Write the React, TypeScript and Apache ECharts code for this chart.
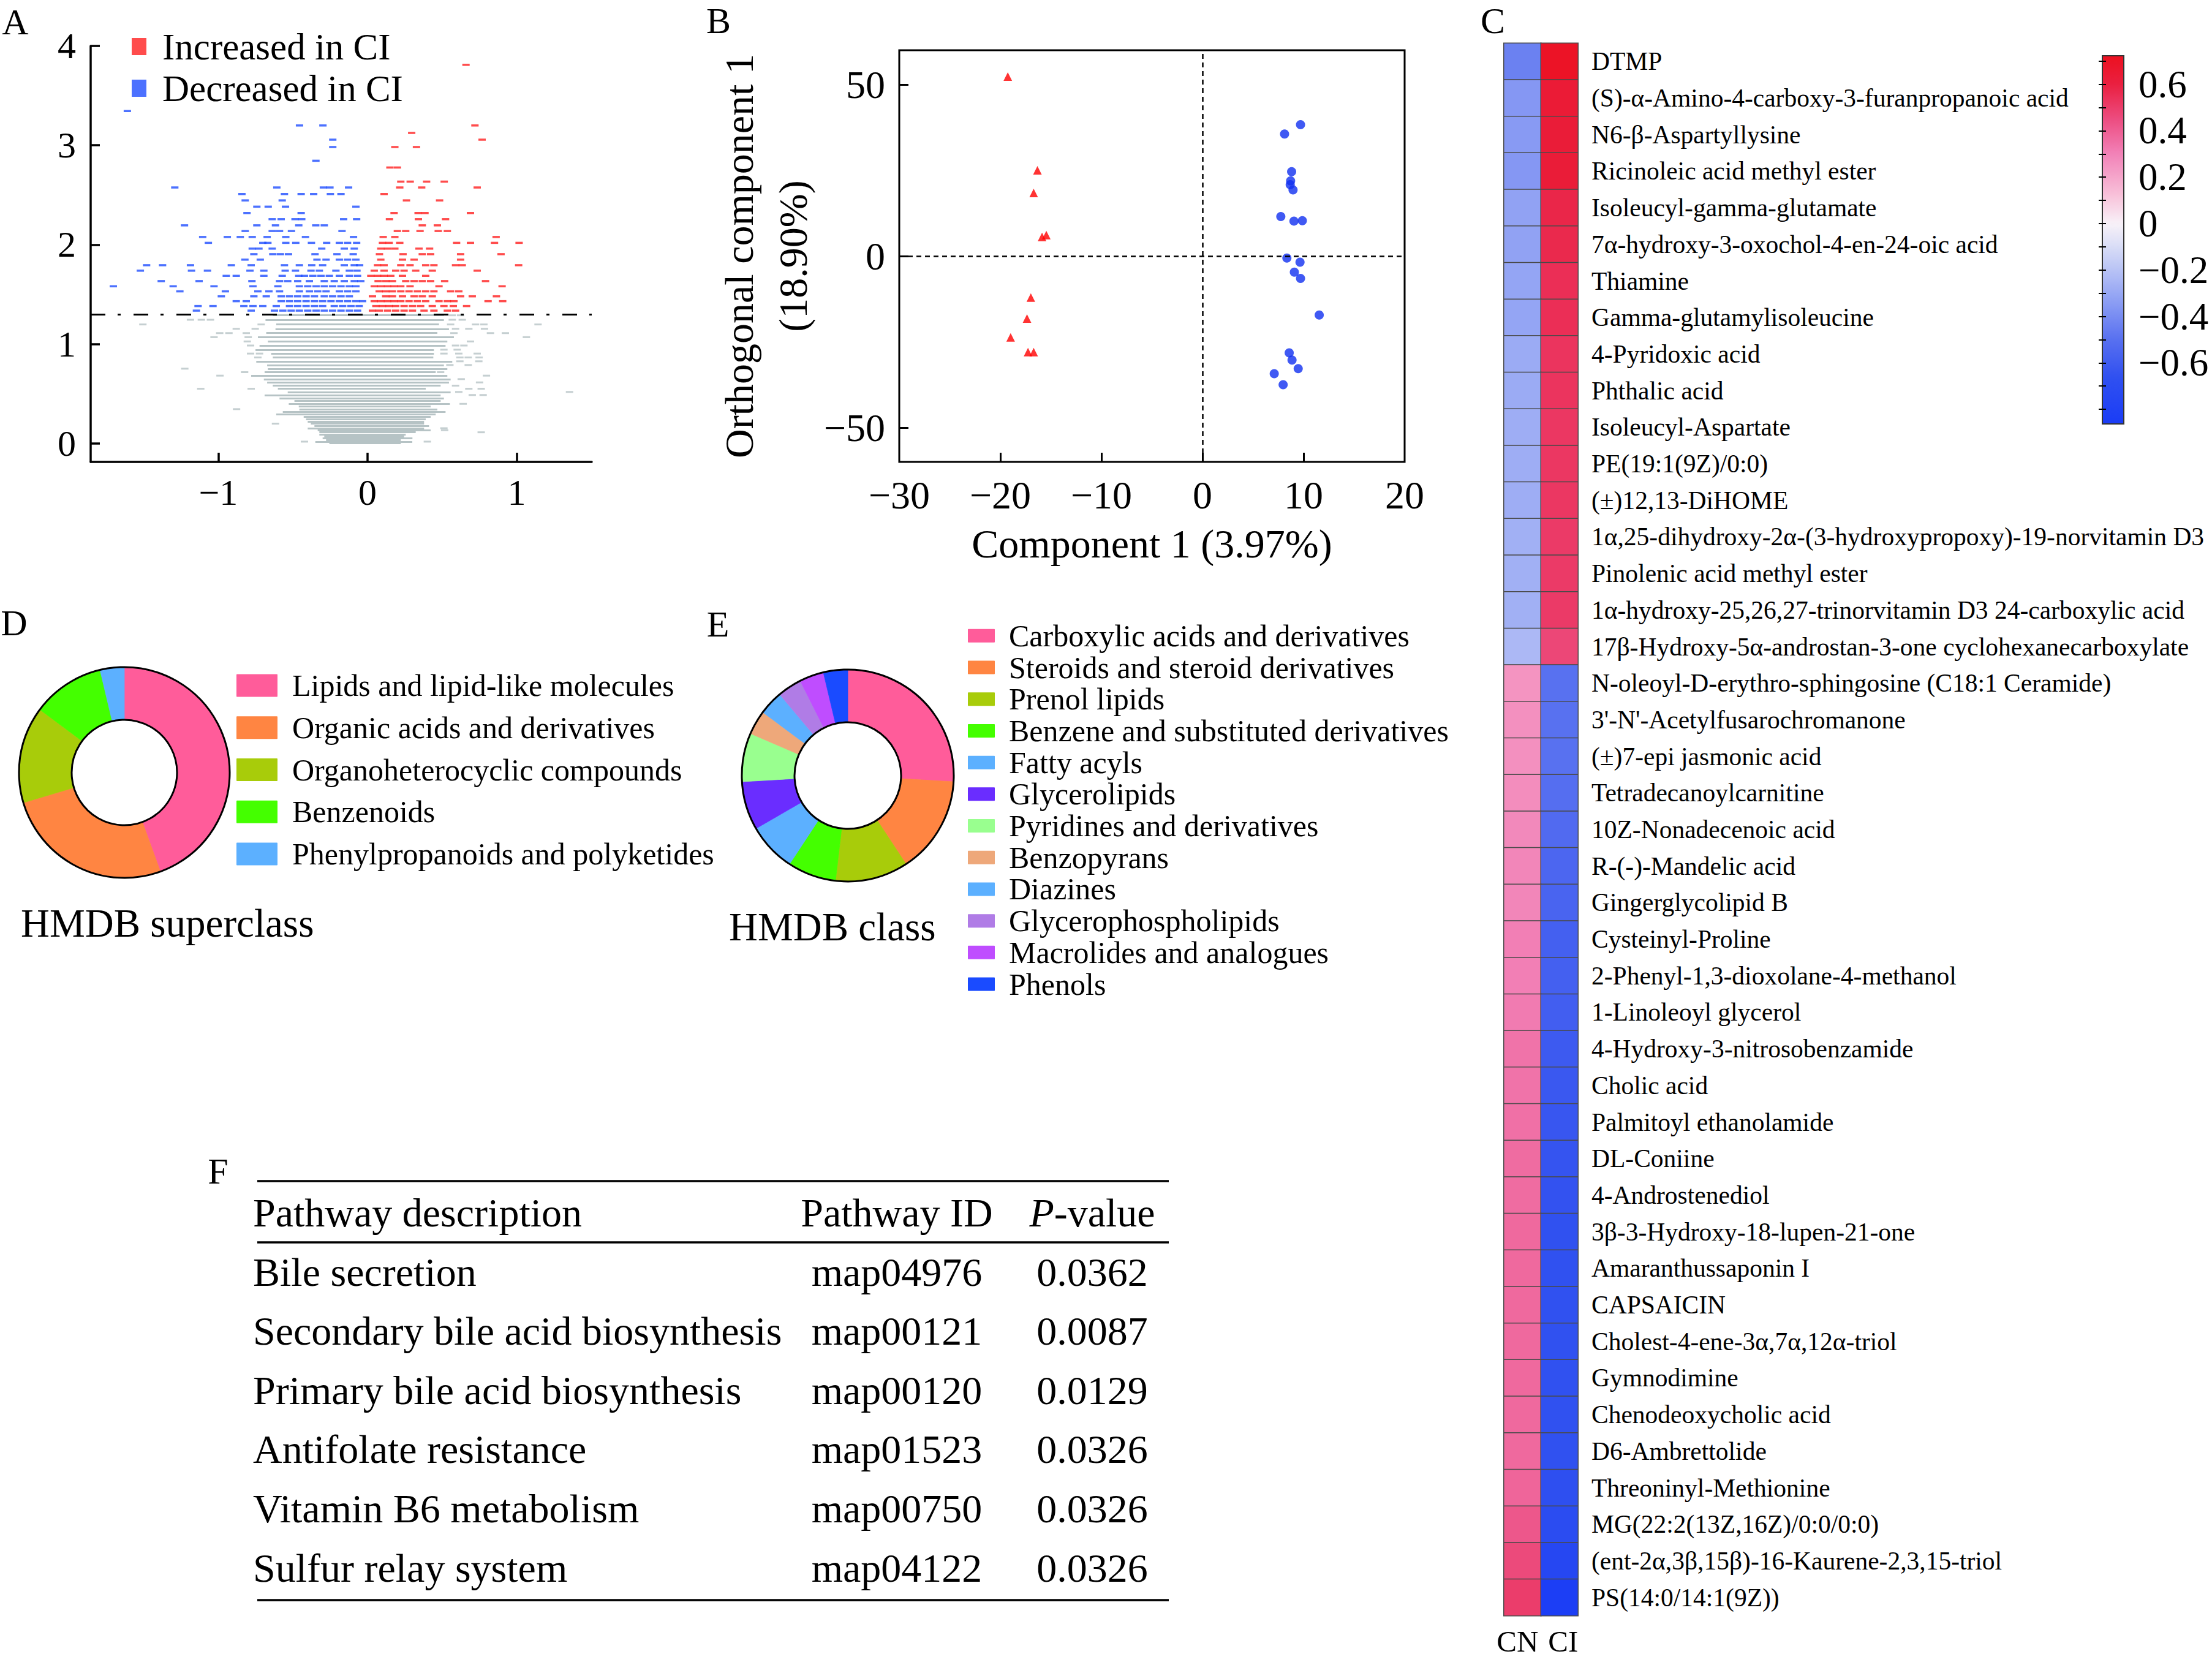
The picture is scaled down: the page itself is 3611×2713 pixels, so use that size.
import React, { useEffect, useRef } from 'react';
import * as echarts from 'echarts';

const FONT = "'Liberation Serif', 'Times New Roman', Times, serif";

// ---------------- Panel A : volcano plot ----------------
const volcanoXTicks = [-1, 0, 1];
const volcanoYTicks = [0, 1, 2, 3, 4];
const pThreshold = 1.3;

const increasedHigh: [number, number][] = [
  [0.66, 3.81], [0.72, 3.2], [0.296, 3.125], [0.768, 3.057], [0.183, 2.983], [0.328, 2.983],
  [0.15, 2.777], [0.2, 2.777], [0.223, 2.635], [0.286, 2.635], [0.396, 2.635], [0.514, 2.635],
];
const decreasedHigh: [number, number][] = [
  [-1.61, 3.345], [-0.456, 3.2], [-0.299, 3.2], [-0.233, 3.057], [-0.233, 2.983], [-0.346, 2.845],
];
const increasedRows: [number, number[]][] = [
  [2.576, [0.216, 0.363, 0.735]],
  [2.510, [0.111]],
  [2.446, [0.261, 0.483]],
  [2.319, [0.178, 0.339, 0.385, 0.690]],
  [2.257, [0.147, 0.341, 0.523]],
  [2.195, [0.367, 0.468]],
  [2.138, [0.200, 0.256, 0.352, 0.474, 0.535]],
  [2.078, [0.105, 0.183, 0.862]],
  [2.019, [0.100, 0.145, 0.216, 0.597, 0.690, 0.851, 1.016]],
  [1.961, [0.089, 0.134, 0.183, 0.345, 0.416]],
  [1.905, [0.080, 0.238, 0.367, 0.423, 0.624, 0.895]],
  [1.850, [0.089, 0.234, 0.312, 0.624]],
  [1.794, [0.067, 0.111, 0.223, 0.285, 0.390, 0.445, 0.590, 0.635, 1.013]],
  [1.739, [0.045, 0.111, 0.189, 0.245, 0.323, 0.434, 0.735]],
  [1.687, [0.022, 0.067, 0.111, 0.156, 0.234, 0.390]],
  [1.634, [0.071, 0.122, 0.167, 0.256, 0.312, 0.367, 0.423, 0.517, 0.791]],
  [1.582, [0.045, 0.089, 0.134, 0.178, 0.223, 0.285, 0.479, 0.902]],
  [1.531, [0.078, 0.122, 0.167, 0.223, 0.278, 0.334, 0.390, 0.445, 0.557, 0.612]],
  [1.481, [0.033, 0.122, 0.167, 0.234, 0.312, 0.367, 0.434, 0.624, 0.702, 0.864]],
  [1.432, [0.045, 0.089, 0.134, 0.178, 0.223, 0.278, 0.334, 0.390, 0.479, 0.535, 0.579, 0.808, 0.906]],
  [1.383, [0.056, 0.100, 0.145, 0.189, 0.245, 0.301, 0.356, 0.434, 0.512, 0.575, 0.664]],
  [1.337, [0.033, 0.078, 0.134, 0.189, 0.245, 0.301, 0.379, 0.445, 0.535, 0.590]],
];
const decreasedRows: [number, number[]][] = [
  [2.576, [-1.292, -0.608, -0.296, -0.252, -0.127]],
  [2.510, [-0.842, -0.557, -0.445, -0.361, -0.249, -0.178]],
  [2.446, [-0.820, -0.572]],
  [2.383, [-0.742, -0.666, -0.550, -0.078]],
  [2.319, [-0.808, -0.445]],
  [2.257, [-0.639, -0.579, -0.486, -0.441, -0.160, -0.073]],
  [2.195, [-1.227, -0.742, -0.617, -0.461, -0.347, -0.290]],
  [2.138, [-0.820, -0.639, -0.590, -0.510, -0.171]],
  [2.078, [-1.105, -0.940, -0.853, -0.773, -0.673, -0.548, -0.416, -0.094]],
  [2.019, [-1.067, -0.702, -0.668, -0.548, -0.481, -0.376, -0.274, -0.189, -0.134, -0.073]],
  [1.961, [-0.773, -0.728, -0.639, -0.307, -0.156, -0.089]],
  [1.905, [-0.762, -0.635, -0.584, -0.530, -0.352, -0.205, -0.096]],
  [1.850, [-0.822, -0.719, -0.339, -0.278, -0.189, -0.134, -0.078]],
  [1.794, [-1.481, -1.374, -1.187, -0.913, -0.780, -0.557, -0.457, -0.374, -0.301, -0.156, -0.089, -0.053]],
  [1.739, [-1.523, -1.180, -1.073, -0.788, -0.695, -0.552, -0.483, -0.379, -0.323, -0.212, -0.122, -0.071]],
  [1.687, [-0.947, -0.880, -0.695, -0.572, -0.461, -0.423, -0.367, -0.312, -0.256, -0.189, -0.122, -0.067]],
  [1.634, [-1.383, -1.129, -0.775, -0.590, -0.535, -0.468, -0.390, -0.290, -0.223, -0.156, -0.089, -0.045]],
  [1.582, [-1.704, -1.303, -1.029, -0.768, -0.601, -0.457, -0.401, -0.345, -0.290, -0.234, -0.178, -0.122, -0.078]],
  [1.531, [-1.258, -0.953, -0.735, -0.661, -0.590, -0.457, -0.390, -0.334, -0.278, -0.189, -0.134, -0.078]],
  [1.481, [-0.980, -0.762, -0.679, -0.579, -0.523, -0.468, -0.412, -0.356, -0.290, -0.234, -0.178, -0.122]],
  [1.432, [-0.880, -0.813, -0.579, -0.523, -0.468, -0.412, -0.356, -0.301, -0.245, -0.189, -0.134, -0.078, -0.033]],
  [1.383, [-1.136, -1.036, -0.829, -0.768, -0.702, -0.612, -0.523, -0.468, -0.412, -0.356, -0.301, -0.223, -0.167, -0.111, -0.056]],
  [1.337, [-1.147, -0.780, -0.624, -0.568, -0.512, -0.457, -0.401, -0.345, -0.290, -0.234, -0.178, -0.122, -0.067]],
];
// dense non-significant rows: [y, x from, x to]
const grayRows: [number, number, number][] = [
  [1.290, -0.635, 0.512], [1.245, -0.684, 0.512], [1.198, -0.612, 0.479], [1.154, -0.617, 0.546],
  [1.111, -0.679, 0.468], [1.070, -0.735, 0.579], [1.027, -0.668, 0.535], [0.986, -0.724, 0.523],
  [0.944, -0.751, 0.445], [0.905, -0.646, 0.445], [0.866, -0.635, 0.441], [0.827, -0.746, 0.568],
  [0.790, -0.673, 0.512], [0.753, -0.668, 0.535], [0.718, -0.690, 0.457], [0.683, -0.780, 0.535],
  [0.648, -0.695, 0.557], [0.615, -0.673, 0.546], [0.582, -0.635, 0.490], [0.551, -0.601, 0.390],
  [0.519, -0.535, 0.557], [0.488, -0.690, 0.490], [0.457, -0.590, 0.512], [0.428, -0.490, 0.490],
  [0.399, -0.528, 0.552], [0.372, -0.461, 0.423], [0.346, -0.457, 0.468], [0.319, -0.568, 0.523],
  [0.294, -0.612, 0.457], [0.270, -0.428, 0.423], [0.245, -0.412, 0.390], [0.222, -0.401, 0.379],
  [0.200, -0.380, 0.379], [0.177, -0.356, 0.412], [0.154, -0.401, 0.379], [0.134, -0.334, 0.423],
  [0.113, -0.323, 0.323], [0.093, -0.323, 0.256], [0.074, -0.290, 0.245], [0.056, -0.301, 0.301],
  [0.037, -0.278, 0.223], [0.019, -0.350, 0.300], [0.002, -0.256, 0.223],
];
const grayOutliers: [number, number][] = [
  [0.568, 1.290], [0.624, 1.290],
  [-1.187, 1.245], [-1.114, 1.245], [-1.053, 1.245], [0.568, 1.245], [0.635, 1.245],
  [-1.506, 1.198], [-0.713, 1.198], [0.557, 1.198], [0.724, 1.198], [0.780, 1.198], [1.143, 1.198],
  [-0.880, 1.154], [-0.753, 1.154], [0.590, 1.154], [0.679, 1.154], [0.784, 1.154],
  [-0.991, 1.111], [-0.929, 1.111], [-0.813, 1.111], [0.579, 1.111], [0.824, 1.111], [0.924, 1.111],
  [-1.029, 1.070], [-0.800, 1.070], [1.065, 1.070],
  [-0.806, 1.027], [0.690, 1.027],
  [-0.784, 0.986], [0.590, 0.986], [0.646, 0.986],
  [0.512, 0.944], [0.601, 0.944],
  [-0.784, 0.905], [-0.724, 0.905], [0.512, 0.905], [0.612, 0.905], [0.735, 0.905],
  [-0.735, 0.866], [0.619, 0.866], [0.675, 0.866], [0.748, 0.866],
  [0.619, 0.827], [0.746, 0.827],
  [0.552, 0.790], [0.675, 0.790],
  [-1.225, 0.753],
  [-0.824, 0.718], [0.490, 0.718],
  [-0.989, 0.683], [0.797, 0.683],
  [0.628, 0.648], [0.751, 0.615], [0.590, 0.582],
  [-1.118, 0.551], [-0.780, 0.551], [0.679, 0.551], [0.762, 0.551],
  [0.612, 0.519], [1.354, 0.519],
  [0.702, 0.488], [0.775, 0.488],
  [0.641, 0.399], [-0.878, 0.346], [-0.617, 0.200],
  [0.512, 0.154], [0.517, 0.134], [0.762, 0.113],
  [-0.423, 0.019], [0.401, 0.019],
];

// ---------------- Panel B : OPLS-DA scores ----------------
const comp1Ticks = [-30, -20, -10, 0, 10, 20];
const orthTicks = [-50, 0, 50];
const triangleGroup: [number, number][] = [
  [-19.26, 52.3], [-16.33, 25.0], [-16.7, 18.4], [-15.87, 5.6], [-15.45, 6.1],
  [-16.98, -12.1], [-17.36, -18.2], [-18.98, -23.7], [-17.26, -28.0], [-16.7, -28.0],
];
const circleGroup: [number, number][] = [
  [9.70, 38.3], [8.12, 35.6], [8.82, 24.6], [8.72, 21.9], [8.68, 20.8], [8.96, 19.3],
  [7.75, 11.5], [9.05, 10.2], [9.88, 10.3], [8.35, -0.6], [9.65, -1.8], [9.09, -4.7],
  [9.70, -6.5], [11.55, -17.2], [8.58, -28.2], [8.86, -30.3], [9.47, -32.8], [7.10, -34.3], [7.98, -37.5],
];

// ---------------- Panel C : heatmap ----------------
const heatColumns = ['CN', 'CI'];
const metabolites = [
  'DTMP',
  '(S)-\u03b1-Amino-4-carboxy-3-furanpropanoic acid',
  'N6-\u03b2-Aspartyllysine',
  'Ricinoleic acid methyl ester',
  'Isoleucyl-gamma-glutamate',
  '7\u03b1-hydroxy-3-oxochol-4-en-24-oic acid',
  'Thiamine',
  'Gamma-glutamylisoleucine',
  '4-Pyridoxic acid',
  'Phthalic acid',
  'Isoleucyl-Aspartate',
  'PE(19:1(9Z)/0:0)',
  '(\u00b1)12,13-DiHOME',
  '1\u03b1,25-dihydroxy-2\u03b1-(3-hydroxypropoxy)-19-norvitamin D3',
  'Pinolenic acid methyl ester',
  '1\u03b1-hydroxy-25,26,27-trinorvitamin D3 24-carboxylic acid',
  '17\u03b2-Hydroxy-5\u03b1-androstan-3-one cyclohexanecarboxylate',
  'N-oleoyl-D-erythro-sphingosine (C18:1 Ceramide)',
  "3'-N'-Acetylfusarochromanone",
  '(\u00b1)7-epi jasmonic acid',
  'Tetradecanoylcarnitine',
  '10Z-Nonadecenoic acid',
  'R-(-)-Mandelic acid',
  'Gingerglycolipid B',
  'Cysteinyl-Proline',
  '2-Phenyl-1,3-dioxolane-4-methanol',
  '1-Linoleoyl glycerol',
  '4-Hydroxy-3-nitrosobenzamide',
  'Cholic acid',
  'Palmitoyl ethanolamide',
  'DL-Coniine',
  '4-Androstenediol',
  '3\u03b2-3-Hydroxy-18-lupen-21-one',
  'Amaranthussaponin I',
  'CAPSAICIN',
  'Cholest-4-ene-3\u03b1,7\u03b1,12\u03b1-triol',
  'Gymnodimine',
  'Chenodeoxycholic acid',
  'D6-Ambrettolide',
  'Threoninyl-Methionine',
  'MG(22:2(13Z,16Z)/0:0/0:0)',
  '(ent-2\u03b1,3\u03b2,15\u03b2)-16-Kaurene-2,3,15-triol',
  'PS(14:0/14:1(9Z))',
];
const cnValues = [
  -0.44, -0.36, -0.35, -0.36, -0.32, -0.32, -0.31, -0.31, -0.29, -0.29, -0.28, -0.28, -0.28, -0.27, -0.27, -0.27, -0.24,
  0.25, 0.26, 0.26, 0.27, 0.28, 0.29, 0.29, 0.31, 0.31, 0.32, 0.34, 0.34, 0.35, 0.36, 0.36, 0.37, 0.37, 0.37, 0.37,
  0.37, 0.37, 0.37, 0.38, 0.42, 0.46, 0.50,
];
const ciValues = [
  0.70, 0.64, 0.63, 0.63, 0.58, 0.57, 0.55, 0.55, 0.53, 0.53, 0.52, 0.52, 0.52, 0.51, 0.51, 0.51, 0.47,
  -0.50, -0.50, -0.50, -0.51, -0.53, -0.55, -0.56, -0.58, -0.58, -0.59, -0.61, -0.62, -0.63, -0.64, -0.65, -0.66,
  -0.66, -0.66, -0.66, -0.66, -0.66, -0.66, -0.67, -0.70, -0.75, -0.84,
];
const colorMin = -0.863;
const colorMax = 0.723;
const colorbarTicks = [-0.8, -0.7, -0.6, -0.5, -0.4, -0.3, -0.2, -0.1, 0, 0.1, 0.2, 0.3, 0.4, 0.5, 0.6, 0.7];
const colorbarLabels = [-0.6, -0.4, -0.2, 0, 0.2, 0.4, 0.6];
const colorStops: [number, string][] = [
  [-0.863, '#1a3cf6'], [-0.66, '#3050f0'], [-0.5, '#5870f0'], [-0.3, '#98a8f4'], [-0.12, '#d2d8f6'],
  [0, '#f8f2f8'], [0.12, '#f8c2da'], [0.3, '#f282b8'], [0.45, '#ec4c80'], [0.6, '#ea2040'], [0.723, '#ec1020'],
];

// ---------------- Panel D / E : HMDB donuts ----------------
const superclassNames = [
  'Lipids and lipid-like molecules',
  'Organic acids and derivatives',
  'Organoheterocyclic compounds',
  'Benzenoids',
  'Phenylpropanoids and polyketides',
];
const superclassCounts = [12, 7, 4, 3, 1];
const superclassColors = ['#ff5c9a', '#ff8542', '#a8cc0a', '#44ff00', '#5cb0ff'];

const classNames = [
  'Carboxylic acids and derivatives',
  'Steroids and steroid derivatives',
  'Prenol lipids',
  'Benzene and substituted derivatives',
  'Fatty acyls',
  'Glycerolipids',
  'Pyridines and derivatives',
  'Benzopyrans',
  'Diazines',
  'Glycerophospholipids',
  'Macrolides and analogues',
  'Phenols',
];
const classCounts = [7, 4, 3, 2, 2, 2, 2, 1, 1, 1, 1, 1];
const classColors = [
  '#ff5c9a', '#ff8542', '#a8cc0a', '#44ff00', '#5cb0ff', '#6a2dff',
  '#99ff8f', '#eea87a', '#5cb0ff', '#b07ce6', '#bf4dff', '#1a4bff',
];

// ---------------- Panel F : pathway table ----------------
const pathwayNames = [
  'Bile secretion',
  'Secondary bile acid biosynthesis',
  'Primary bile acid biosynthesis',
  'Antifolate resistance',
  'Vitamin B6 metabolism',
  'Sulfur relay system',
];
const pathwayIds = ['map04976', 'map00121', 'map00120', 'map01523', 'map00750', 'map04122'];
const pathwayPValues = ['0.0362', '0.0087', '0.0129', '0.0326', '0.0326', '0.0326'];

// ---------------- helpers ----------------
const RED = '#ff1f1f';
const BLUE = '#1f4dff';
const GRAY = '#b6c3c5';

function hexToRgb(h: string): number[] {
  const n = parseInt(h.slice(1), 16);
  return [(n >> 16) & 255, (n >> 8) & 255, n & 255];
}
function colorAt(v: number): string {
  if (v <= colorStops[0][0]) return colorStops[0][1];
  for (let i = 1; i < colorStops.length; i++) {
    const [v1, c1] = colorStops[i];
    const [v0, c0] = colorStops[i - 1];
    if (v <= v1) {
      const t = (v - v0) / (v1 - v0);
      const a = hexToRgb(c0);
      const b = hexToRgb(c1);
      const m = a.map((x, k) => Math.round(x + (b[k] - x) * t));
      return `rgb(${m[0]},${m[1]},${m[2]})`;
    }
  }
  return colorStops[colorStops.length - 1][1];
}
const fmtMinus = (v: number) => String(Math.round(v * 100) / 100).replace('-', '\u2212');

export default function App() {
  const ref = useRef<HTMLDivElement>(null);

  useEffect(() => {
    document.body.style.margin = '0';
    if (!ref.current) return;
    const chart = echarts.init(ref.current, undefined, { renderer: 'svg' });

    const N = 81;
    const samples: string[] = [];
    for (let i = 0; i < N; i++) samples.push(colorAt(colorMin + ((colorMax - colorMin) * i) / (N - 1)));

    const upPts = [...increasedHigh, ...increasedRows.flatMap(([y, xs]) => xs.map((x) => [x, y]))];
    const downPts = [...decreasedHigh, ...decreasedRows.flatMap(([y, xs]) => xs.map((x) => [x, y]))];

    const heatData: number[][] = [];
    metabolites.forEach((_, i) => {
      heatData.push([0, i, cnValues[i]]);
      heatData.push([1, i, ciValues[i]]);
    });

    const txt = (text: string, x: number, y: number, size: number, align = 'left') => ({
      type: 'text', x, y, silent: true,
      style: { text, fontSize: size, fontFamily: FONT, fill: '#000', textAlign: align, textVerticalAlign: 'middle' },
    });

    const graphics: any[] = [
      txt('A', 25, 36, 60, 'center'),
      txt('B', 1173, 34, 60, 'center'),
      txt('C', 2437, 34, 60, 'center'),
      txt('D', 23, 1017, 60, 'center'),
      txt('E', 1172, 1019, 60, 'center'),
      txt('F', 356, 1912, 60, 'center'),
      txt('HMDB superclass', 34, 1507, 65),
      txt('HMDB class', 1190, 1513, 65),
      { type: 'circle', silent: true, z: 10, shape: { cx: 203, cy: 1261, r: 172 }, style: { fill: 'none', stroke: '#000', lineWidth: 3 } },
      { type: 'circle', silent: true, z: 10, shape: { cx: 203, cy: 1261, r: 86 }, style: { fill: 'none', stroke: '#000', lineWidth: 3 } },
      { type: 'circle', silent: true, z: 10, shape: { cx: 1384, cy: 1266, r: 173 }, style: { fill: 'none', stroke: '#000', lineWidth: 3 } },
      { type: 'circle', silent: true, z: 10, shape: { cx: 1384, cy: 1266, r: 87 }, style: { fill: 'none', stroke: '#000', lineWidth: 3 } },
      {
        type: 'rect', silent: true, z: 1,
        shape: { x: 3432, y: 91, width: 35, height: 601 },
        style: {
          fill: { type: 'linear', x: 0, y: 1, x2: 0, y2: 0, colorStops: samples.map((c, i) => ({ offset: i / (N - 1), color: c })) },
          stroke: '#333', lineWidth: 2,
        },
      },
      // table rules
      { type: 'line', silent: true, shape: { x1: 420, y1: 1928, x2: 1908, y2: 1928 }, style: { stroke: '#000', lineWidth: 3.5 } },
      { type: 'line', silent: true, shape: { x1: 420, y1: 2028, x2: 1908, y2: 2028 }, style: { stroke: '#000', lineWidth: 3.5 } },
      { type: 'line', silent: true, shape: { x1: 420, y1: 2612, x2: 1908, y2: 2612 }, style: { stroke: '#000', lineWidth: 3.5 } },
      txt('Pathway description', 413, 1979, 66),
      txt('Pathway ID', 1464, 1979, 66, 'center'),
      {
        type: 'text', x: 1783, y: 1979, silent: true,
        style: {
          text: '{i|P}-value', fontSize: 66, fontFamily: FONT, fill: '#000', textAlign: 'center', textVerticalAlign: 'middle',
          rich: { i: { fontStyle: 'italic', fontSize: 66, fontFamily: FONT, fill: '#000' } },
        },
      },
    ];
    pathwayNames.forEach((name, i) => {
      const y = 2076 + i * 96.6;
      graphics.push(txt(name, 413, y, 66));
      graphics.push(txt(pathwayIds[i], 1464, y, 66, 'center'));
      graphics.push(txt(pathwayPValues[i], 1783, y, 66, 'center'));
    });

    const axisBlack = { color: '#000', width: 3.5 };

    const option: any = {
      animation: false,
      backgroundColor: '#ffffff',
      textStyle: { fontFamily: FONT, color: '#000' },
      grid: [
        { left: 148, top: 75, width: 818, height: 679 },
        { left: 1468, top: 82, width: 825, height: 672, show: true, borderColor: '#000', borderWidth: 3, backgroundColor: 'transparent' },
        { left: 2455, top: 70.5, width: 121, height: 2567 },
        { left: 3432, top: 91, width: 35, height: 601 },
      ],
      xAxis: [
        {
          gridIndex: 0, type: 'value', min: -1.856, max: 1.503,
          axisLine: { show: true, onZero: false, lineStyle: axisBlack },
          axisTick: { show: true, inside: true, length: 15, customValues: volcanoXTicks, lineStyle: axisBlack },
          axisLabel: { customValues: volcanoXTicks, fontSize: 60, margin: 20, color: '#000', fontFamily: FONT, formatter: fmtMinus },
          splitLine: { show: false },
        },
        {
          gridIndex: 1, type: 'value', min: -30, max: 20, position: 'bottom',
          axisLine: { show: false, onZero: false },
          axisTick: { show: true, inside: true, length: 15, customValues: [-20, -10, 0, 10], lineStyle: { color: '#000', width: 3 } },
          axisLabel: { customValues: comp1Ticks, fontSize: 64, margin: 22, color: '#000', fontFamily: FONT, formatter: fmtMinus },
          splitLine: { show: false },
          name: 'Component 1 (3.97%)', nameLocation: 'middle', nameGap: 100,
          nameTextStyle: { fontSize: 66, lineHeight: 66, color: '#000', fontFamily: FONT },
        },
        {
          gridIndex: 2, type: 'category', data: heatColumns,
          axisLine: { show: false }, axisTick: { show: false },
          axisLabel: {
            fontSize: 49, margin: 17, color: '#000', fontFamily: FONT, interval: 0,
            formatter: (v: string) => (v === 'CN' ? `{cn|${v}}` : `{ci|${v}}`),
            rich: {
              cn: { fontSize: 49, fontFamily: FONT, color: '#000', padding: [0, 16, 0, 0] },
              ci: { fontSize: 49, fontFamily: FONT, color: '#000', padding: [0, 0, 0, 12] },
            },
          },
          splitLine: { show: false },
        },
        { gridIndex: 3, type: 'value', min: 0, max: 1, show: false },
      ],
      yAxis: [
        {
          gridIndex: 0, type: 'value', min: -0.185, max: 4,
          axisLine: { show: true, onZero: false, lineStyle: axisBlack },
          axisTick: { show: true, inside: true, length: 15, customValues: volcanoYTicks, lineStyle: axisBlack },
          axisLabel: { customValues: volcanoYTicks, fontSize: 60, margin: 24, color: '#000', fontFamily: FONT },
          splitLine: { show: false },
        },
        {
          gridIndex: 1, type: 'value', min: -60, max: 60, position: 'left',
          axisLine: { show: false, onZero: false },
          axisTick: { show: true, inside: true, length: 15, customValues: orthTicks, lineStyle: { color: '#000', width: 3 } },
          axisLabel: { customValues: orthTicks, fontSize: 64, margin: 23, color: '#000', fontFamily: FONT, formatter: fmtMinus },
          splitLine: { show: false },
          name: 'Orthogonal component 1\n(18.90%)', nameLocation: 'middle', nameGap: 130, nameRotate: 90,
          nameTextStyle: { fontSize: 66, lineHeight: 88, color: '#000', fontFamily: FONT, align: 'center' },
        },
        {
          gridIndex: 2, type: 'category', data: metabolites, inverse: true, position: 'right',
          axisLine: { show: false }, axisTick: { show: false },
          axisLabel: { fontSize: 41.5, margin: 22, color: '#000', fontFamily: FONT, interval: 0 },
          splitLine: { show: false },
        },
        {
          gridIndex: 3, type: 'value', min: colorMin, max: colorMax, position: 'right', z: 10,
          axisLine: { show: false },
          axisTick: { show: true, inside: true, length: 6, customValues: colorbarTicks, lineStyle: { color: '#000', width: 2 } },
          axisLabel: { customValues: colorbarLabels, fontSize: 63, margin: 24, color: '#000', fontFamily: FONT, formatter: fmtMinus },
          splitLine: { show: false },
        },
        {
          gridIndex: 3, type: 'value', min: colorMin, max: colorMax, position: 'left', z: 10,
          axisLine: { show: false },
          axisTick: { show: true, inside: true, length: 6, customValues: colorbarTicks, lineStyle: { color: '#000', width: 2 } },
          axisLabel: { show: false },
          splitLine: { show: false },
        },
      ],
      visualMap: [
        {
          type: 'continuous', show: false, min: colorMin, max: colorMax, dimension: 2, seriesIndex: 6,
          inRange: { color: samples },
        },
      ],
      legend: [
        {
          data: [{ name: 'Increased in CI', icon: 'rect' }, { name: 'Decreased in CI', icon: 'rect' }],
          left: 215, top: 42, orient: 'vertical', padding: 0, itemWidth: 24, itemHeight: 28, itemGap: 0,
          selectedMode: false,
          textStyle: { fontSize: 61, lineHeight: 68, color: '#000', fontFamily: FONT, padding: [0, 0, 0, 21] },
        },
        {
          data: superclassNames.map((n) => ({ name: n, icon: 'rect' })),
          left: 386, top: 1094, orient: 'vertical', padding: 0, itemWidth: 65, itemHeight: 35, itemGap: 18.75,
          selectedMode: false,
          textStyle: { fontSize: 50, lineHeight: 50, color: '#000', fontFamily: FONT, padding: [0, 0, 0, 20] },
        },
        {
          data: classNames.map((n) => ({ name: n, icon: 'rect' })),
          left: 1580, top: 1012, orient: 'vertical', padding: 0, itemWidth: 42, itemHeight: 20, itemGap: 0,
          selectedMode: false,
          textStyle: { fontSize: 50, lineHeight: 51.7, color: '#000', fontFamily: FONT, padding: [0, 0, 0, 19] },
        },
      ],
      series: [
        {
          name: 'Not significant (rows)', type: 'lines', coordinateSystem: 'cartesian2d', xAxisIndex: 0, yAxisIndex: 0,
          polyline: false, silent: true, z: 1, symbol: ['none', 'none'],
          lineStyle: { color: GRAY, width: 3, opacity: 1, curveness: 0 },
          data: grayRows.map(([y, a, b]) => ({ coords: [[a, y], [b, y]] })),
        },
        {
          name: 'Not significant', type: 'scatter', xAxisIndex: 0, yAxisIndex: 0, silent: true, z: 1,
          symbol: 'rect', symbolSize: [12, 3], itemStyle: { color: GRAY },
          data: grayOutliers,
          markLine: {
            silent: true, symbol: ['none', 'none'], label: { show: false },
            lineStyle: { color: '#000', width: 3, type: [24, 20, 5, 21] },
            data: [{ yAxis: pThreshold }],
          },
        },
        {
          name: 'Increased in CI', type: 'scatter', xAxisIndex: 0, yAxisIndex: 0, silent: true, z: 3,
          symbol: 'rect', symbolSize: [12, 3.5], itemStyle: { color: RED }, data: upPts,
        },
        {
          name: 'Decreased in CI', type: 'scatter', xAxisIndex: 0, yAxisIndex: 0, silent: true, z: 3,
          symbol: 'rect', symbolSize: [12, 3.5], itemStyle: { color: BLUE }, data: downPts,
        },
        {
          name: 'Triangle group', type: 'scatter', xAxisIndex: 1, yAxisIndex: 1, silent: true, z: 3,
          symbol: 'triangle', symbolSize: [14, 14], itemStyle: { color: '#ff0000' }, data: triangleGroup,
          markLine: {
            silent: true, symbol: ['none', 'none'], label: { show: false },
            lineStyle: { color: '#000', width: 2.5, type: [8, 6] },
            data: [{ xAxis: 0 }, { yAxis: 0 }],
          },
        },
        {
          name: 'Circle group', type: 'scatter', xAxisIndex: 1, yAxisIndex: 1, silent: true, z: 3,
          symbol: 'circle', symbolSize: 15, itemStyle: { color: '#1030f0' }, data: circleGroup,
        },
        {
          name: 'Heatmap', type: 'heatmap', xAxisIndex: 2, yAxisIndex: 2, silent: true,
          itemStyle: { borderColor: '#4a4a4a', borderWidth: 1.5 },
          data: heatData,
        },
        {
          name: 'HMDB superclass', type: 'pie', center: [203, 1261], radius: [86, 172], startAngle: 90, clockwise: true,
          silent: true, label: { show: false }, labelLine: { show: false },
          data: superclassNames.map((n, i) => ({
            name: n, value: superclassCounts[i],
            itemStyle: { color: superclassColors[i], borderColor: superclassColors[i], borderWidth: 0.8 },
          })),
        },
        {
          name: 'HMDB class', type: 'pie', center: [1384, 1266], radius: [87, 173], startAngle: 90, clockwise: true,
          silent: true, label: { show: false }, labelLine: { show: false },
          data: classNames.map((n, i) => ({
            name: n, value: classCounts[i],
            itemStyle: { color: classColors[i], borderColor: classColors[i], borderWidth: 0.8 },
          })),
        },
      ],
      graphic: graphics,
    };

    chart.setOption(option);
    return () => chart.dispose();
  }, []);

  return <div ref={ref} style={{ width: 3611, height: 2713 }} />;
}
